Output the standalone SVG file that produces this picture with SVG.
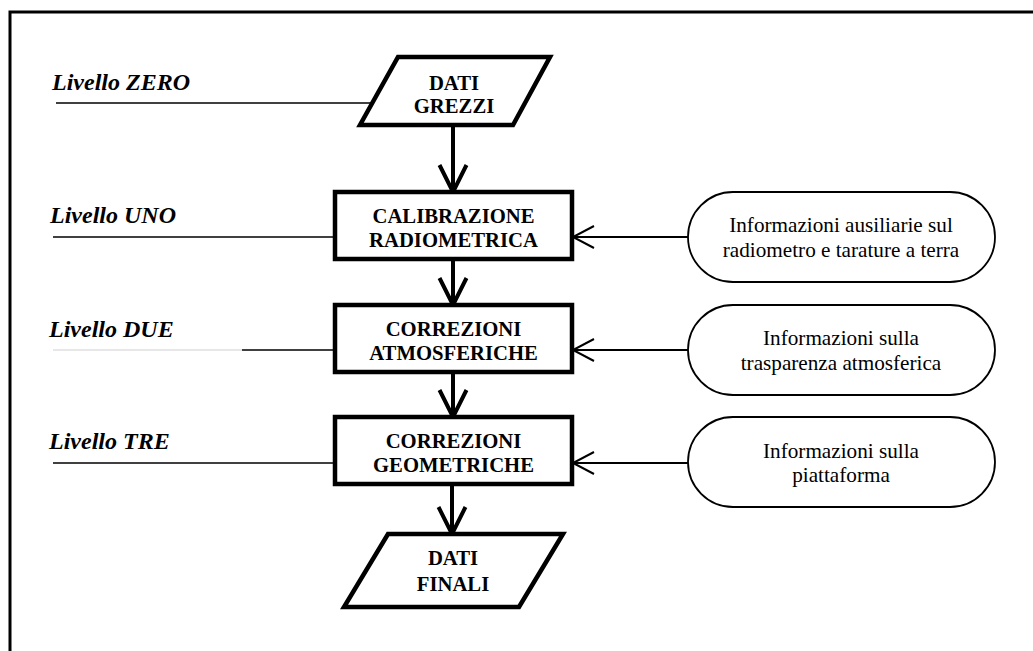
<svg xmlns="http://www.w3.org/2000/svg" width="1033" height="651" viewBox="0 0 1033 651" font-family="Liberation Serif">
<defs>
<style>
.lvl{font-family:'Liberation Serif',serif;font-size:24px;font-weight:bold;font-style:italic;fill:#000}
.bt{font-family:'Liberation Serif',serif;font-size:20.7px;font-weight:bold;fill:#000;text-anchor:middle}
.it{font-family:'Liberation Serif',serif;font-size:21.2px;fill:#000;text-anchor:middle}
.proc{fill:#fff;stroke:#000;stroke-width:4.5}
.io{fill:#fff;stroke:#000;stroke-width:4.5;stroke-linejoin:miter}
.aux{fill:#fff;stroke:#000;stroke-width:1.8}
.lvline{stroke:#000;stroke-width:1.5;fill:none}
.flow{stroke:#000;stroke-width:4;fill:none}
.info{stroke:#000;stroke-width:2;fill:none}
</style>
<marker id="bigV" markerUnits="userSpaceOnUse" viewBox="-30 -16 32 32" markerWidth="32" markerHeight="32" refX="0" refY="0" orient="auto" overflow="visible">
<path d="M-27,-13.5 L0,0 L-27,13.5" fill="none" stroke="#000" stroke-width="4" stroke-linejoin="miter"/>
</marker>
<marker id="smallV" markerUnits="userSpaceOnUse" viewBox="-24 -13 26 26" markerWidth="26" markerHeight="26" refX="0" refY="0" orient="auto" overflow="visible">
<path d="M-21,-11 L0,0 L-21,11" fill="none" stroke="#000" stroke-width="2"/>
</marker>
</defs>
<rect width="1033" height="651" fill="#fff"/>
<path d="M10,651 V12 H1033" fill="none" stroke="#000" stroke-width="3"/>

<g id="levels">
<text class="lvl" x="52" y="90">Livello ZERO</text>
<line class="lvline" x1="56" y1="103" x2="372" y2="103"/>
<text class="lvl" x="50" y="223">Livello UNO</text>
<line class="lvline" x1="53" y1="237" x2="335" y2="237"/>
<text class="lvl" x="49" y="337">Livello DUE</text>
<line x1="53" y1="350" x2="242" y2="350" stroke="#cfcfcf" stroke-width="1"/>
<line class="lvline" x1="242" y1="350" x2="335" y2="350"/>
<text class="lvl" x="49" y="449">Livello TRE</text>
<line class="lvline" x1="53" y1="463" x2="335" y2="463"/>
</g>

<g id="connectors">
<line class="flow" x1="453" y1="125" x2="453" y2="192" marker-end="url(#bigV)"/>
<line class="flow" x1="453" y1="259" x2="453" y2="305" marker-end="url(#bigV)"/>
<line class="flow" x1="453" y1="372" x2="453" y2="417" marker-end="url(#bigV)"/>
<line class="flow" x1="452" y1="484" x2="452" y2="534" marker-end="url(#bigV)"/>
<line class="info" x1="688" y1="237" x2="573" y2="237" marker-end="url(#smallV)"/>
<line class="info" x1="688" y1="350" x2="573" y2="350" marker-end="url(#smallV)"/>
<line class="info" x1="688" y1="463" x2="573" y2="463" marker-end="url(#smallV)"/>
</g>

<g id="dati-grezzi">
<polygon class="io" points="398,57 550,57 513,125 360,125"/>
<text class="bt" x="454" y="90">DATI</text>
<text class="bt" x="454" y="113">GREZZI</text>
</g>

<g id="calibrazione">
<rect class="proc" x="335" y="192" width="237" height="67"/>
<text class="bt" x="453.5" y="223">CALIBRAZIONE</text>
<text class="bt" x="453.5" y="247">RADIOMETRICA</text>
</g>

<g id="correzioni-atmosferiche">
<rect class="proc" x="335" y="305" width="237" height="67"/>
<text class="bt" x="453.5" y="336">CORREZIONI</text>
<text class="bt" x="453.5" y="360">ATMOSFERICHE</text>
</g>

<g id="correzioni-geometriche">
<rect class="proc" x="335" y="417" width="237" height="67"/>
<text class="bt" x="453.5" y="448">CORREZIONI</text>
<text class="bt" x="453.5" y="472">GEOMETRICHE</text>
</g>

<g id="dati-finali">
<polygon class="io" points="388,534 563,534 519,607 344,607"/>
<text class="bt" x="453" y="565">DATI</text>
<text class="bt" x="453" y="591">FINALI</text>
</g>

<g id="info-radiometro">
<rect class="aux" x="688" y="192" width="307" height="90" rx="45" ry="45"/>
<text class="it" x="841" y="232">Informazioni ausiliarie sul</text>
<text class="it" x="841" y="257">radiometro e tarature a terra</text>
</g>

<g id="info-atmosfera">
<rect class="aux" x="688" y="305" width="307" height="90" rx="45" ry="45"/>
<text class="it" x="841" y="345">Informazioni sulla</text>
<text class="it" x="841" y="370">trasparenza atmosferica</text>
</g>

<g id="info-piattaforma">
<rect class="aux" x="688" y="417" width="307" height="90" rx="45" ry="45"/>
<text class="it" x="841" y="458">Informazioni sulla</text>
<text class="it" x="841" y="482">piattaforma</text>
</g>
</svg>
